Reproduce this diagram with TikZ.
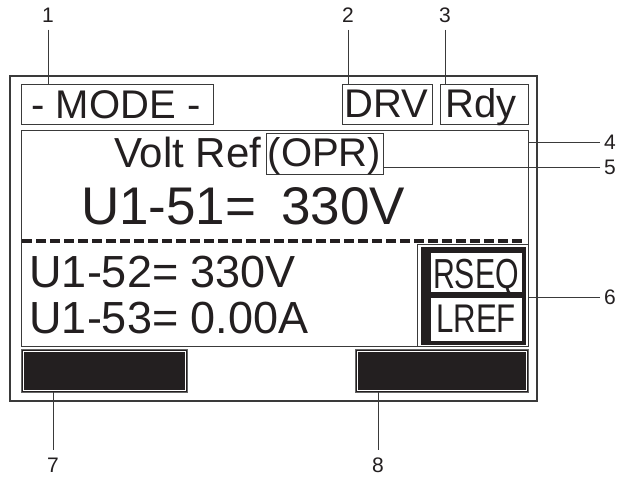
\documentclass[tikz,border=0pt]{standalone}
\usepackage{fontspec}
\setmainfont{Liberation Sans}
\definecolor{ink}{HTML}{231F20}
\definecolor{frame}{HTML}{3A3A3A}
\newcommand\fsz[1]{\fontsize{#1}{#1}\selectfont}
\begin{document}
\begin{tikzpicture}[x=1pt,y=-1pt,
  box/.style={draw=frame, line width=1, rectangle, inner sep=0, outer sep=0},
  bar/.style={box, fill=ink, draw=black!60},
  txt/.style={inner sep=0, outer sep=0, text=ink},
  num/.style={txt, font=\fsz{21}},
  leader/.style={draw=frame, line width=0.9}]
\useasboundingbox[fill=white] (0,0) rectangle (619,480);

% outer frame and boxes
\node[box, line width=1.5, minimum width=527, minimum height=325] (frame) at (273.5,238.5) {};
\node[box, minimum width=192, minimum height=40] (mode) at (117,104) {};
\node[box, minimum width=90, minimum height=40] (drv) at (387,104) {};
\node[box, minimum width=88, minimum height=40] (rdy) at (484,104) {};
\node[box, minimum width=507, minimum height=216] (panel) at (274.5,238) {};
\node[box, minimum width=117, minimum height=41] (opr) at (324.5,153.5) {};

% RSEQ / LREF group
\node[box, fill=white, minimum width=111, minimum height=102] (grp) at (472.5,295) {};
\node[rectangle, fill=ink, inner sep=0, minimum width=105, minimum height=98] (blk) at (473.5,296) {};
\node[rectangle, fill=white, inner sep=0, minimum width=91, minimum height=39] (rseqbox) at (476.5,272.5) {};
\node[rectangle, fill=white, inner sep=0, minimum width=91, minimum height=43] (lrefbox) at (476.5,319.5) {};

% black soft-key bars
\node[bar, minimum width=166, minimum height=43] (bar7) at (104,370.5) {};
\node[bar, minimum width=173, minimum height=43] (bar8) at (441.5,370.5) {};
\draw[white, line width=0.8] ([shift={(2pt,-2pt)}]bar7.north west) rectangle ([shift={(-2pt,2pt)}]bar7.south east);
\draw[white, line width=0.8] ([shift={(2pt,-2pt)}]bar8.north west) rectangle ([shift={(-2pt,2pt)}]bar8.south east);

% dashed separator
\coordinate (dashL) at (22,240.5);
\coordinate (dashR) at (526,240.5);
\draw[ink, line width=4, dash pattern=on 9.5pt off 4.5pt] (dashL) -- (dashR);

% texts
\node[txt, anchor=base, font=\fsz{40}] (tmode) at (116,118) {- MODE -};
\node[txt, anchor=base, font=\fsz{40}] (tdrv) at (386,117) {DRV};
\node[txt, anchor=base, font=\fsz{40}] (trdy) at (481,117) {Rdy};
\node[txt, anchor=base west, font=\fsz{42}] (tvolt) at (114,167) {Volt Ref};
\node[txt, anchor=base, font=\fsz{40}] (topr) at (324.5,166) {(OPR)};
\node[txt, anchor=base west, font=\fsz{53}] (t51) at (81,224) {U1-51=\hspace{0.47em}330V};
\node[txt, anchor=base west, font=\fsz{45}] (t52) at (29.5,287) {U1-52= 330V};
\node[txt, anchor=base west, font=\fsz{45}] (t53) at (29.5,333) {U1-53= 0.00A};
\node[txt, anchor=base, font=\fsz{42}] (trseq) at (476,288) {\scalebox{0.72}[1]{RSEQ}};
\node[txt, anchor=base, font=\fsz{40}] (tlref) at (476,332) {\scalebox{0.78}[1]{LREF}};

% callout numbers
\node[num] (n1) at (48,15.5) {1};
\node[num] (n2) at (348,15.5) {2};
\node[num] (n3) at (445,15.5) {3};
\node[num, anchor=west] (n4) at (604,142) {4};
\node[num, anchor=west] (n5) at (604,167) {5};
\node[num, anchor=west] (n6) at (604,297) {6};
\node[num] (n7) at (53,465) {7};
\node[num] (n8) at (378,465) {8};

% leaders
\draw[leader, shorten <=7pt] (n1.south) -- (n1.south |- mode.north);
\draw[leader, shorten <=7pt] (n2.south) -- (n2.south |- drv.north);
\draw[leader, shorten <=7pt] (n3.south) -- (n3.south |- rdy.north);
\draw[leader, shorten <=4pt] (n4.west) -- (n4.west -| panel.east);
\draw[leader, shorten <=4pt] (n5.west) -- (n5.west -| opr.east);
\draw[leader, shorten <=4pt] (n6.west) -- (n6.west -| grp.east);
\draw[leader, shorten <=8pt] (n7.north) -- (n7.north |- bar7.south);
\draw[leader, shorten <=8pt] (n8.north) -- (n8.north |- bar8.south);
\end{tikzpicture}
\end{document}
